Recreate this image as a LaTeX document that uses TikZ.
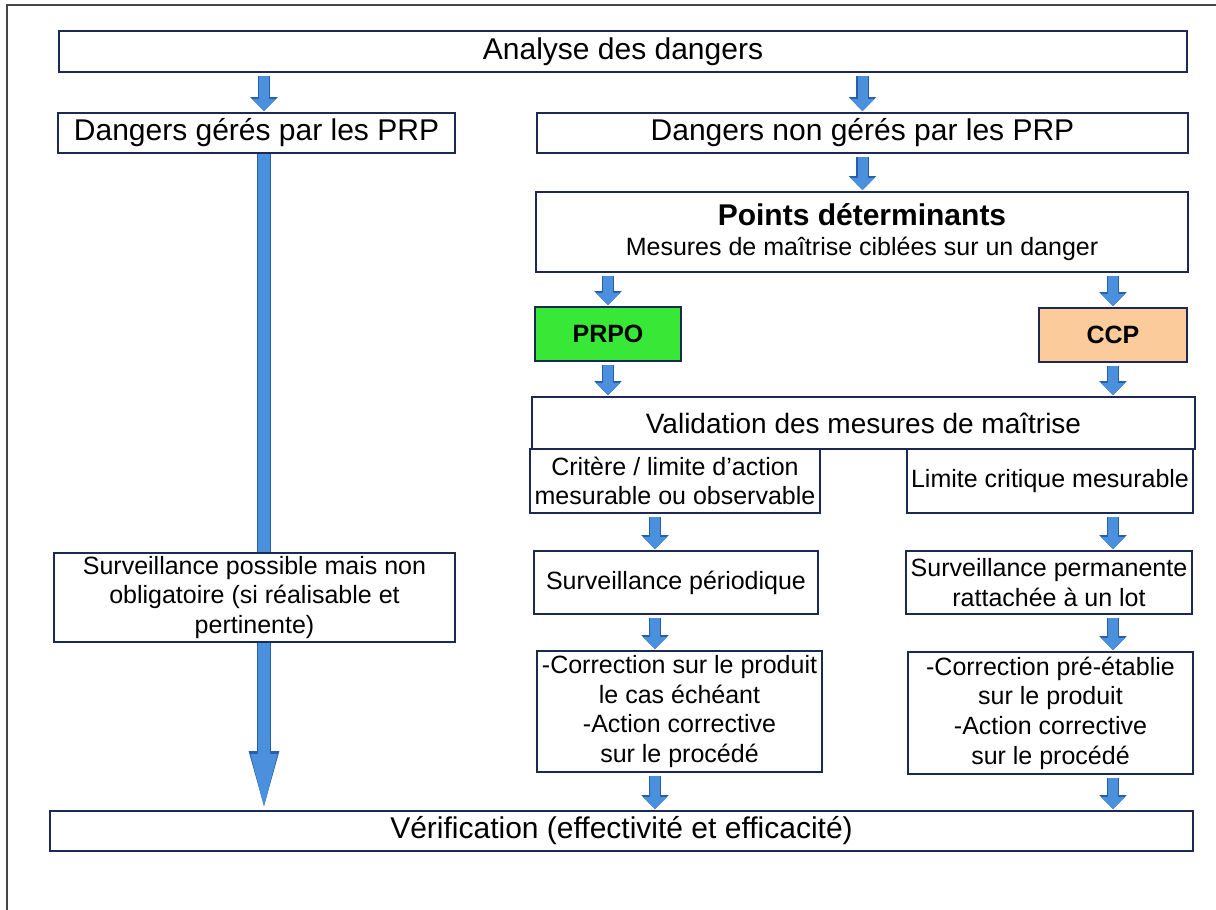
\documentclass[tikz,border=0pt]{standalone}
\usepackage{fontspec}
\setmainfont{Liberation Sans}
\usepackage{tikz}
\usetikzlibrary{arrows.meta,backgrounds,positioning}
\definecolor{boxline}{RGB}{30,40,85}
\definecolor{arrowfill}{RGB}{74,144,220}
\definecolor{arrowedge}{RGB}{40,95,170}
\definecolor{prpogreen}{RGB}{55,232,55}
\definecolor{ccppeach}{RGB}{252,203,155}
\definecolor{framegray}{RGB}{70,70,70}
\tikzset{stage node/.style={draw=boxline, line width=0.9pt, fill=white,
    align=center, inner sep=0.5pt, font=\fontsize{12.5}{14.8}\selectfont}}
\tikzset{wide node/.style={stage node, font=\fontsize{15}{18}\selectfont}}
\tikzset{flow edge/.style={draw=arrowfill, line width=5pt, shorten <=1.5pt, shorten >=0.5pt,
    -{Triangle[width=12pt, length=6pt, line width=0pt]},
    preaction={draw=arrowedge, line width=6.4pt,
      -{Triangle[width=13.8pt, length=7pt, line width=0pt]}}}}
\tikzset{main edge/.style={draw=arrowfill, line width=5.6pt, shorten >=2pt,
    -{Triangle[width=13.6pt, length=26pt, line width=0pt]},
    preaction={draw=arrowedge, line width=7pt,
      -{Triangle[width=15.4pt, length=27.5pt, line width=0pt]}}}}

\begin{document}
\begin{tikzpicture}[x=0.5pt, y=-0.5pt]
  \useasboundingbox (0,0) rectangle (1216,910);
  \draw [framegray, line width=1pt] (1216,5) -- (7,5) -- (7,910);

  \node [wide node, minimum width=564pt, minimum height=20.5pt]   (analyse)  at ( 623,  51.5) {Analyse des dangers};
  \node [wide node, minimum width=198.5pt, minimum height=20pt]   (geres)    at ( 256.5, 133) {Dangers gérés par les PRP};
  \node [wide node, minimum width=325.5pt, minimum height=20pt]   (nongeres) at ( 862.5, 133) {Dangers non gérés par les PRP};
  \node [stage node, minimum width=326pt, minimum height=40pt]    (points)   at ( 862,  232) {{\fontsize{15}{18}\selectfont\bfseries Points déterminants}\\[0.6pt] Mesures de maîtrise ciblées sur un danger};
  \node [stage node, fill=prpogreen, minimum width=73pt, minimum height=27pt] (prpo) at ( 608, 334) {\bfseries PRPO};
  \node [stage node, fill=ccppeach, minimum width=74pt, minimum height=27pt]  (ccp)  at (1113, 335) {\bfseries CCP};
  \node [stage node, font=\fontsize{14}{17}\selectfont, minimum width=331.5pt, minimum height=26pt] (valid) at (863.5, 423) {Validation des mesures de maîtrise};
  \node [stage node, minimum width=145pt, minimum height=32pt]    (critere)  at ( 675,  481) {Critère / limite d’action\\ mesurable ou observable};
  \node [stage node, minimum width=143pt, minimum height=32pt]    (limite)   at (1050,  481) {Limite critique mesurable};
  \node [stage node, minimum width=142pt, minimum height=31.5pt]  (survper)  at ( 676,  582.5) {Surveillance périodique};
  \node [stage node, minimum width=143pt, minimum height=31.5pt]  (survperm) at (1049,  582.5) {Surveillance permanente\\ rattachée à un lot};
  \node [stage node, minimum width=142.5pt, minimum height=60.5pt] (corrprpo) at ( 679.5, 711.5) {-Correction sur le produit\\ le cas échéant\\ -Action corrective\\ sur le procédé};
  \node [stage node, minimum width=142.5pt, minimum height=61pt]  (corrccp)  at (1050.5, 713) {-Correction pré-établie\\ sur le produit\\ -Action corrective\\ sur le procédé};
  \node [stage node, minimum width=200.5pt, minimum height=44.5pt] (survposs) at ( 254.5, 597.5) {Surveillance possible mais non\\ obligatoire (si réalisable et\\ pertinente)};
  \node [wide node, minimum width=571.5pt, minimum height=20pt]   (verif)    at ( 621.5, 831) {Vérification (effectivité et efficacité)};

  \coordinate (colG) at (264, 0);
  \coordinate (colL) at (655, 0);

  \begin{scope}[on background layer]
    \draw [flow edge] (analyse.south -| colG)  to (geres.north -| colG);
    \draw [flow edge] (analyse.south -| nongeres) to (nongeres.north);
    \draw [flow edge] (nongeres.south)         to (nongeres.south |- points.north);
    \draw [flow edge] (points.south -| prpo)   to (prpo.north);
    \draw [flow edge] (points.south -| ccp)    to (ccp.north);
    \draw [flow edge] (prpo.south)             to (prpo.south |- valid.north);
    \draw [flow edge] (ccp.south)              to (ccp.south |- valid.north);
    \draw [flow edge] (critere.south -| colL)  to (survper.north -| colL);
    \draw [flow edge] (limite.south -| ccp)    to (survperm.north -| ccp);
    \draw [flow edge] (survper.south -| colL)  to (corrprpo.north -| colL);
    \draw [flow edge] (survperm.south -| ccp)  to (corrccp.north -| ccp);
    \draw [flow edge] (corrprpo.south -| colL) to (verif.north -| colL);
    \draw [flow edge] (corrccp.south -| ccp)   to (verif.north -| ccp);
    \draw [main edge] (geres.south -| colG)    to (verif.north -| colG);
  \end{scope}
\end{tikzpicture}
\end{document}
